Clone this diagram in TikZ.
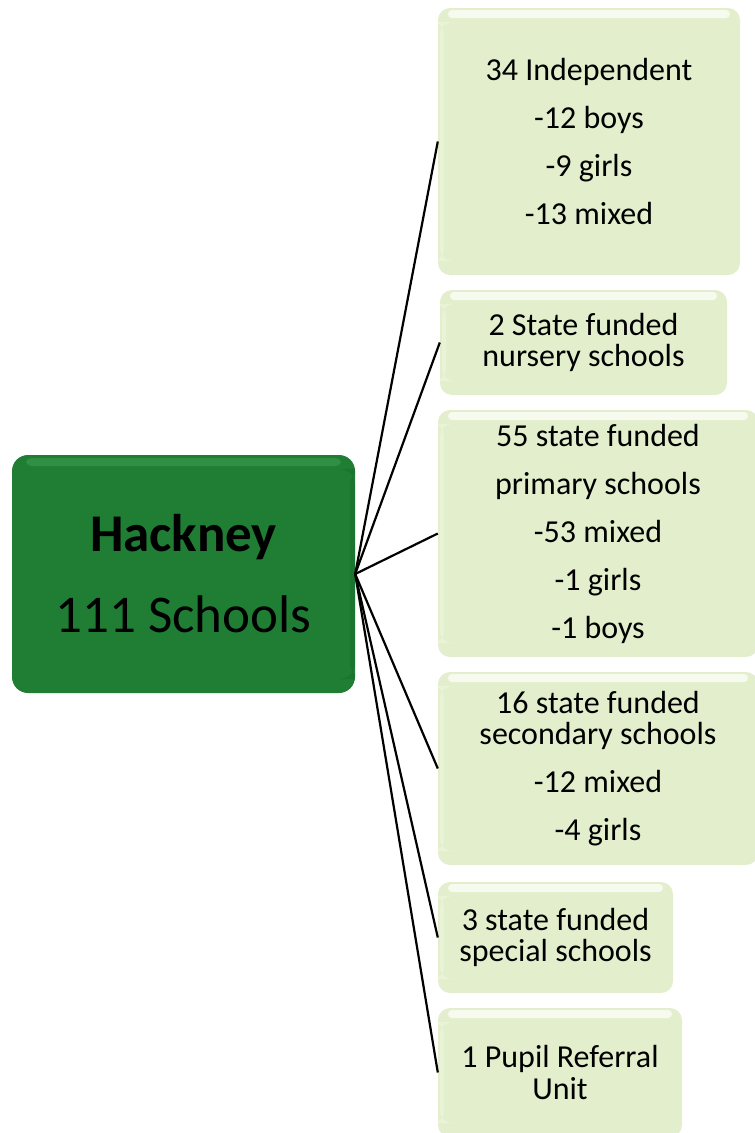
\documentclass[tikz,border=0pt]{standalone}
\usepackage{fontspec}
\setmainfont{Carlito}
\begin{document}
\begin{tikzpicture}[x=1pt,y=-1pt,
  leafbox/.style={draw=none, fill=leafgreen, rounded corners=12pt, inner sep=0pt,
    align=center, font=\fontsize{32}{31.5}\selectfont,
    path picture={
      \fill[white, opacity=0.7, rounded corners=4pt]
        ([xshift=10pt,yshift=-2pt]path picture bounding box.north west)
        rectangle ([xshift=-10pt,yshift=-10pt]path picture bounding box.north east);
      \fill[white, opacity=0.25]
        ([xshift=2pt,yshift=-14pt]path picture bounding box.north west)
        rectangle ([xshift=6pt,yshift=14pt]path picture bounding box.south west);
    }},
  rootbox/.style={draw=none, fill=rootgreen, rounded corners=16pt, inner sep=0pt,
    align=center, font=\fontsize{53}{81}\selectfont,
    path picture={
      \fill[rootlight, opacity=0.6, rounded corners=5pt]
        ([xshift=14pt,yshift=-3pt]path picture bounding box.north west)
        rectangle ([xshift=-14pt,yshift=-11pt]path picture bounding box.north east);
      \fill[rootdark, opacity=0.4]
        ([xshift=-5pt,yshift=-14pt]path picture bounding box.north east)
        rectangle ([yshift=14pt]path picture bounding box.south east);
    }},
  link/.style={draw=black, line width=2.2pt}
]
\definecolor{leafgreen}{HTML}{E3EFCC}
\definecolor{rootgreen}{HTML}{1F7D34}
\definecolor{rootlight}{HTML}{3E9C4E}
\definecolor{rootdark}{HTML}{16692A}

\useasboundingbox (0,0) rectangle (755,1133);

% central node
\node[rootbox, minimum width=343pt, minimum height=238pt] (hack) at (183.5,574)
  {\textbf{Hackney}\\111 Schools};

% category boxes
\node[leafbox, minimum width=302pt, minimum height=267pt] (indep) at (589,141.5)
  {34 Independent\\[16.5pt]-12 boys\\[16.5pt]-9 girls\\[16.5pt]-13 mixed};
\node[leafbox, minimum width=287pt, minimum height=105pt] (nurs) at (583.5,342.5)
  {2 State funded\\nursery schools};
\node[leafbox, minimum width=320pt, minimum height=247pt] (prim) at (598,533.5)
  {55 state funded\\[16.5pt]primary schools\\[16.5pt]-53 mixed\\[16.5pt]-1 girls\\[16.5pt]-1 boys};
\node[leafbox, minimum width=320pt, minimum height=193pt] (sec) at (598,768.5)
  {16 state funded\\secondary schools\\[16.5pt]-12 mixed\\[16.5pt]-4 girls};
\node[leafbox, minimum width=235pt, minimum height=111pt] (spec) at (555.5,937.5)
  {3 state funded\\special schools};
\node[leafbox, minimum width=244pt, minimum height=129pt] (pru) at (560,1072.5)
  {1 Pupil Referral\\Unit};

% connectors from the root to each category
\foreach \t in {indep,nurs,prim,sec,spec,pru}
  \draw[link] (hack.east) -- (\t.west);
\end{tikzpicture}
\end{document}
